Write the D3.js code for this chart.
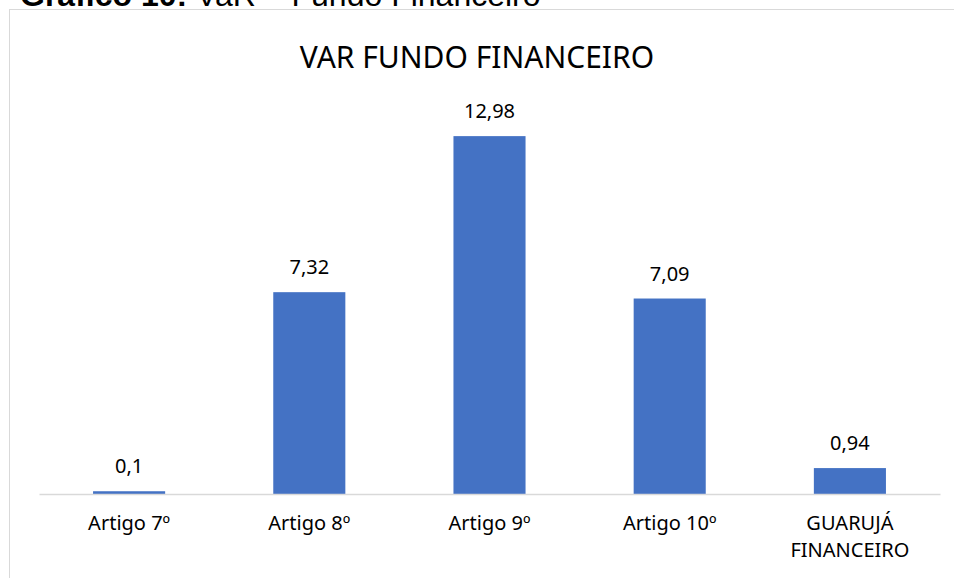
<!DOCTYPE html>
<meta charset="utf-8">
<style>
	body { margin: 0; background: #fff; }
	.title { font-family: "Noto Sans", sans-serif; font-size: 30px; fill: #000; }
	.lbl { font-family: "Noto Sans", sans-serif; font-size: 20px; fill: #000; }
	.head { font-family: "Liberation Sans", Arial, sans-serif; font-size: 32px; fill: #000; }
</style>
<body>
<script src="https://d3js.org/d3.v7.min.js"></script>
<script>
var categorias = ["Artigo 7º", "Artigo 8º", "Artigo 9º", "Artigo 10º", "GUARUJÁ FINANCEIRO"];
var valores = [0.1, 7.32, 12.98, 7.09, 0.94];
var rotulos = ["0,1", "7,32", "12,98", "7,09", "0,94"];

(function(){
	var width = 954, height = 578;
	var svg = d3.select("body").append("svg")
		.attr("width", width)
		.attr("height", height);

	// cabecalho cortado no topo
	var h = svg.append("text").attr("class", "head").attr("x", 20).attr("y", 6);
	h.append("tspan").attr("font-weight", "bold").text("Gráfico 10:");
	h.append("tspan").text(" VaR – Fundo Financeiro");

	// moldura do grafico
	svg.append("rect")
		.attr("x", 9.5).attr("y", 9.5)
		.attr("width", 960).attr("height", 600)
		.attr("fill", "#fff")
		.attr("stroke", "#d9d9d9");

	svg.append("text")
		.attr("class", "title")
		.attr("x", 477).attr("y", 68)
		.attr("text-anchor", "middle")
		.text("VAR FUNDO FINANCEIRO");

	var x = d3.scaleBand()
		.domain(categorias)
		.range([39, 940])
		.paddingInner(0.6)
		.paddingOuter(0.3);
	var y = d3.scaleLinear().domain([0, 14]).range([494, 108]);

	var g = svg.append("g");
	g.selectAll(".bar")
		.data(valores)
		.enter()
		.append("rect")
		.attr("class", "bar")
		.attr("x", function(d, i) { return x(categorias[i]); })
		.attr("y", function(d) { return y(d); })
		.attr("width", x.bandwidth())
		.attr("height", function(d) { return y(0) - y(d); })
		.attr("fill", "#4472c4");

	g.selectAll(".val")
		.data(valores)
		.enter()
		.append("text")
		.attr("class", "lbl")
		.attr("text-anchor", "middle")
		.attr("x", function(d, i) { return x(categorias[i]) + x.bandwidth() / 2; })
		.attr("y", function(d) { return y(d) - 18; })
		.text(function(d, i) { return rotulos[i]; });

	var axis = d3.axisBottom(x).tickSize(0).tickPadding(0);
	var ax = svg.append("g")
		.attr("transform", "translate(0," + y(0) + ")")
		.call(axis);
	ax.select(".domain").attr("stroke", "#d9d9d9").attr("stroke-width", 1.5);
	ax.selectAll(".tick text").remove();
	ax.selectAll(".tick").each(function(d) {
		var t = d3.select(this).append("text")
			.attr("class", "lbl")
			.attr("text-anchor", "middle")
			.attr("fill", "#000");
		var linhas = d === "GUARUJÁ FINANCEIRO" ? ["GUARUJÁ", "FINANCEIRO"] : [d];
		linhas.forEach(function(l, k) {
			t.append("tspan").attr("x", 0).attr("y", 36 + k * 27).text(l);
		});
	});
})();
</script>
